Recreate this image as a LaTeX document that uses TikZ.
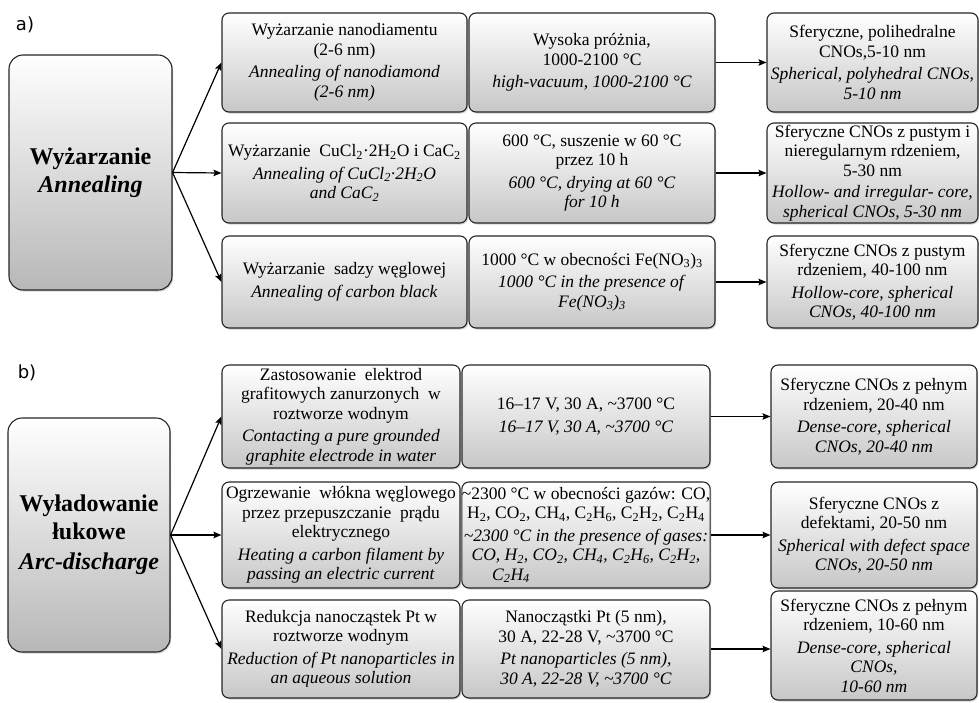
\documentclass[tikz,border=0pt]{standalone}
\usepackage{fontspec}
\setmainfont{Liberation Serif}
\newfontfamily\labelfont{DejaVu Sans}
\usetikzlibrary{arrows.meta,shadows,calc}
\newcommand{\sbs}[1]{\textsubscript{#1}}
\newcommand{\tld}{\textasciitilde}
\newcommand{\en}[1]{\textit{#1}}
\begin{document}
\begin{tikzpicture}[x=1pt,y=-1pt,
  box/.style={draw=black!85, line width=1.1pt, rounded corners=7pt,
    top color=white, bottom color=black!22, align=center, inner sep=0pt,
    font=\fontsize{17.5}{19.5}\selectfont,
    drop shadow={shadow xshift=1.2pt, shadow yshift=-1.5pt, opacity=0.35},
    append after command={
      \pgfextra{\draw[white, opacity=0.7, line width=1.4pt, rounded corners=5pt]
        ($(\tikzlastnode.north west)+(2.6pt,-2.6pt)$) rectangle
        ($(\tikzlastnode.south east)+(-2.6pt,2.6pt)$);}}},
  big/.style={box, rounded corners=14pt, bottom color=black!28,
    font=\fontsize{24}{28}\selectfont\bfseries},
  lbl/.style={font=\labelfont\fontsize{18}{22}\selectfont, inner sep=0pt},
  arr/.style={-{Stealth[length=8pt,width=6.5pt,inset=1.5pt]}, line width=1.2pt, black}
]
\fill[white] (0,0) rectangle (979,702);
\useasboundingbox (0,0) rectangle (979,702);

% labels
\node[lbl] (la) at (25,25) {a)};
\node[lbl] (lb) at (27,373) {b)};

% ---- a) ----
\node[big, minimum width=163pt, minimum height=235pt] (A) at (90.5,172.5)
  {Wyżarzanie\\\textit{Annealing}};

\node[box, minimum width=245pt, minimum height=99pt] (a11) at (344.5,62.5)
  {Wyżarzanie nanodiamentu\\(2-6 nm)\\[3pt]\en{Annealing of nanodiamond}\\\en{(2-6 nm)}};
\node[box, minimum width=246pt, minimum height=99pt] (a12) at (592,62.5)
  {Wysoka próżnia,\\1000-2100 °C\\[3pt]\en{high-vacuum, 1000-2100 °C}};
\node[box, minimum width=211pt, minimum height=99pt] (a13) at (872.5,62.5)
  {Sferyczne, polihedralne\\CNOs,5-10 nm\\[3pt]\en{Spherical, polyhedral CNOs,}\\\en{5-10 nm}};

\node[box, minimum width=245pt, minimum height=100pt] (a21) at (344.5,173)
  {Wyżarzanie\ \ CuCl\sbs{2}·2H\sbs{2}O i CaC\sbs{2}\\[3pt]\en{Annealing of\ CuCl\sbs{2}·2H\sbs{2}O}\\\en{and CaC\sbs{2}}};
\node[box, minimum width=246pt, minimum height=100pt] (a22) at (592,173)
  {600 °C, suszenie w 60 °C\\przez 10 h\\[3pt]\en{600 °C, drying at 60 °C}\\\en{for 10 h}};
\node[box, minimum width=211pt, minimum height=100pt] (a23) at (872.5,173)
  {Sferyczne CNOs z pustym i\\nieregularnym rdzeniem,\\5-30 nm\\[2pt]\en{Hollow- and irregular- core,}\\\en{spherical CNOs,\ 5-30 nm}};

\node[box, minimum width=245pt, minimum height=92pt] (a31) at (344.5,282)
  {Wyżarzanie\ \ sadzy węglowej\\[3pt]\en{Annealing of carbon black}};
\node[box, minimum width=246pt, minimum height=92pt] (a32) at (592,282)
  {1000 °C w obecności Fe(NO\sbs{3})\sbs{3}\\[3pt]\en{1000 °C in the presence of}\\\en{Fe(NO\sbs{3})\sbs{3}}};
\node[box, minimum width=211pt, minimum height=92pt] (a33) at (872.5,282)
  {Sferyczne CNOs z pustym\\rdzeniem, 40-100 nm\\[3pt]\en{Hollow-core, spherical}\\\en{CNOs,\ 40-100 nm}};

\draw[arr] (A.east) -- (a11.west);
\draw[arr] (A.east) -- (a21.west);
\draw[arr] (A.east) -- (a31.west);
\draw[arr] (a12.east) -- (a13.west);
\draw[arr] (a22.east) -- (a23.west);
\draw[arr] (a32.east) -- (a33.west);

% ---- b) ----
\node[big, minimum width=162pt, minimum height=234pt] (B) at (89,535)
  {Wyładowanie\\łukowe\\[2pt]\textit{Arc-discharge}};

\node[box, minimum width=238pt, minimum height=103pt] (b11) at (341,416.5)
  {Zastosowanie\ \ elektrod\\grafitowych zanurzonych\ \ w\\roztworze wodnym\\[3pt]\en{Contacting a pure grounded}\\\en{graphite electrode in water}};
\node[box, minimum width=248pt, minimum height=103pt] (b12) at (586,416.5)
  {16--17 V, 30 A, \tld3700 °C\\[3pt]\en{16--17 V, 30 A, \tld3700 °C}};
\node[box, minimum width=206pt, minimum height=103pt] (b13) at (874,416.5)
  {Sferyczne CNOs z pełnym\\rdzeniem,\ 20-40 nm\\[3pt]\en{Dense-core, spherical}\\\en{CNOs,\ 20-40 nm}};

\node[box, minimum width=238pt, minimum height=106pt] (b21) at (341,535)
  {Ogrzewanie\ \ włókna węglowego\\przez przepuszczanie\ \ prądu\\elektrycznego\\[3pt]\en{Heating a carbon filament by}\\\en{passing an electric current}};
\node[box, minimum width=248pt, minimum height=106pt] (b22) at (586,535)
  {\tld2300 °C w obecności gazów: CO,\\H\sbs{2}, CO\sbs{2}, CH\sbs{4}, C\sbs{2}H\sbs{6}, C\sbs{2}H\sbs{2}, C\sbs{2}H\sbs{4}\\[3pt]\en{\tld2300 °C in the presence of gases:}\\\en{CO, H\sbs{2}, CO\sbs{2}, CH\sbs{4}, C\sbs{2}H\sbs{6}, C\sbs{2}H\sbs{2},}\\\en{C\sbs{2}H\sbs{4}}\hspace*{150pt}};
\node[box, minimum width=206pt, minimum height=106pt] (b23) at (874,535)
  {Sferyczne CNOs z\\defektami,\ 20-50 nm\\[3pt]\en{Spherical with defect space}\\\en{CNOs,\ 20-50 nm}};

\node[box, minimum width=238pt, minimum height=98pt] (b31) at (341,649)
  {Redukcja nanocząstek Pt w\\roztworze wodnym\\[3pt]\en{Reduction of Pt nanoparticles in}\\\en{an aqueous solution}};
\node[box, minimum width=248pt, minimum height=98pt] (b32) at (586,649)
  {Nanocząstki Pt (5 nm),\\30 A, 22-28 V, \tld3700 °C\\[3pt]\en{Pt nanoparticles (5 nm),}\\\en{30 A,\ 22-28 V, \tld3700 °C}};
\node[box, minimum width=206pt, minimum height=109pt] (b33) at (874,645.5)
  {Sferyczne CNOs z pełnym\\rdzeniem, 10-60 nm\\[3pt]\en{Dense-core, spherical}\\\en{CNOs,}\\\en{10-60 nm}};

\draw[arr] (B.east) -- (b11.west);
\draw[arr] (B.east) -- (b21.west);
\draw[arr] (B.east) -- (b31.west);
\draw[arr] (b12.east) -- (b13.west);
\draw[arr] (b22.east) -- (b23.west);
\draw[arr] (b32.east) -- (b32.east -| b33.west);
\end{tikzpicture}
\end{document}
